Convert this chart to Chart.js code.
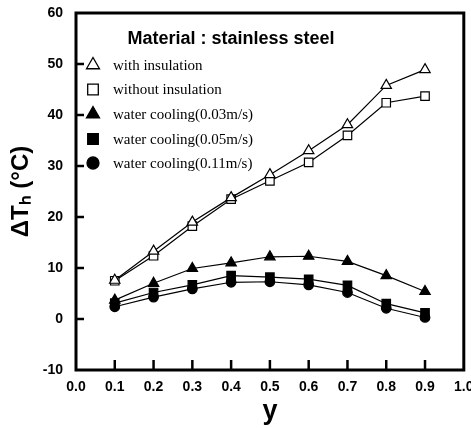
<!DOCTYPE html>
<html lang="en">
<head>
    <meta charset="UTF-8">
    <title>Delta T_h vs y - stainless steel</title>
    <script src="https://cdn.jsdelivr.net/npm/chart.js"></script>
    <style>
        html, body { margin: 0; padding: 0; background: #fff; }
    </style>
</head>
<body>
    <canvas id="chart" width="471" height="428"></canvas>
    <script>
        // positions along the plate
        const yPositions = [0.1, 0.2, 0.3, 0.4, 0.5, 0.6, 0.7, 0.8, 0.9];

        // delta T_h (°C)
        const withInsulation    = [7.6, 13.3, 19.0, 23.8, 28.3, 33.0, 38.1, 45.8, 48.9];
        const withoutInsulation = [7.5, 12.4, 18.2, 23.5, 27.1, 30.7, 36.0, 42.4, 43.7];
        const waterCooling003   = [3.7, 7.0, 9.9, 11.0, 12.2, 12.3, 11.3, 8.5, 5.4];
        const waterCooling005   = [3.1, 5.2, 6.7, 8.5, 8.2, 7.8, 6.6, 3.0, 1.2];
        const waterCooling011   = [2.4, 4.3, 5.9, 7.2, 7.3, 6.7, 5.2, 2.1, 0.3];

        const seriesNames = [
            "with insulation",
            "without insulation",
            "water cooling(0.03m/s)",
            "water cooling(0.05m/s)",
            "water cooling(0.11m/s)"
        ];
        const chartTitle = "Material : stainless steel";

        function toPoints(values) {
            return values.map((v, i) => ({ x: yPositions[i], y: v }));
        }

        function makeSet(label, values, style, filled, radius) {
            return {
                label: label,
                data: toPoints(values),
                borderColor: "#000",
                borderWidth: 1.2,
                pointStyle: style,
                pointRadius: radius,
                pointBorderWidth: 1.2,
                pointBorderColor: "#000",
                pointBackgroundColor: filled ? "#000" : "#fff",
                tension: 0
            };
        }

        const datasets = [
            makeSet(seriesNames[0], withInsulation, "triangle", false, 6),
            makeSet(seriesNames[1], withoutInsulation, "rect", false, 6),
            makeSet(seriesNames[2], waterCooling003, "triangle", true, 6),
            makeSet(seriesNames[3], waterCooling005, "rect", true, 6),
            makeSet(seriesNames[4], waterCooling011, "circle", true, 4.8)
        ];

        // box, inward ticks, title and legend are drawn by hand
        const framePlugin = {
            id: "frame",
            afterDatasetsDraw(chart) {
                const ctx = chart.ctx;
                const a = chart.chartArea;
                const xs = chart.scales.x;
                const ys = chart.scales.y;
                ctx.save();
                ctx.strokeStyle = "#000";
                ctx.lineWidth = 3;
                ctx.strokeRect(a.left, a.top, a.right - a.left, a.bottom - a.top);

                ctx.lineWidth = 2.5;
                ys.ticks.forEach(t => {
                    if (t.value <= ys.min || t.value >= ys.max) return;
                    const py = ys.getPixelForValue(t.value);
                    ctx.beginPath();
                    ctx.moveTo(a.left, py);
                    ctx.lineTo(a.left + 8, py);
                    ctx.stroke();
                });
                xs.ticks.forEach(t => {
                    if (t.value <= xs.min || t.value >= xs.max) return;
                    const px = xs.getPixelForValue(t.value);
                    ctx.beginPath();
                    ctx.moveTo(px, a.bottom);
                    ctx.lineTo(px, a.bottom - 10);
                    ctx.stroke();
                });

                // title
                ctx.fillStyle = "#000";
                ctx.font = "bold 18px 'Liberation Sans', Arial, sans-serif";
                ctx.textAlign = "center";
                ctx.textBaseline = "middle";
                ctx.fillText(chartTitle, 231, 39);

                // legend
                const rows = [65, 89.5, 114, 139, 163];
                ctx.font = "15px 'Liberation Serif', 'Times New Roman', serif";
                ctx.textAlign = "left";
                chart.data.datasets.forEach((ds, i) => {
                    ctx.fillStyle = ds.pointBackgroundColor;
                    ctx.strokeStyle = "#000";
                    ctx.lineWidth = 1.3;
                    Chart.helpers.drawPoint(ctx, {
                        pointStyle: ds.pointStyle,
                        radius: ds.pointStyle === "circle" ? 6 : 7.5,
                        borderWidth: 1.3,
                        rotation: 0
                    }, 93, rows[i]);
                    ctx.fillStyle = "#000";
                    ctx.fillText(ds.label, 113, rows[i] + 1);
                });
                ctx.restore();
            }
        };

        const tickFont = { family: "'Liberation Sans', Arial, sans-serif", size: 14, weight: "bold" };

        new Chart(document.getElementById("chart"), {
            type: "line",
            data: { datasets: datasets },
            plugins: [framePlugin],
            options: {
                responsive: false,
                animation: false,
                layout: { padding: { left: 0, right: 5, top: 13, bottom: 0 } },
                plugins: {
                    legend: { display: false },
                    tooltip: { enabled: false }
                },
                scales: {
                    x: {
                        type: "linear",
                        min: 0,
                        max: 1,
                        grid: { display: false, drawTicks: false },
                        border: { display: false },
                        ticks: {
                            stepSize: 0.1,
                            color: "#000",
                            font: tickFont,
                            padding: 9,
                            maxRotation: 0,
                            callback: v => Number(v).toFixed(1)
                        },
                        title: {
                            display: true,
                            text: "y",
                            color: "#000",
                            font: { family: "'Liberation Sans', Arial, sans-serif", size: 27, weight: "bold" },
                            padding: { top: 0, bottom: 0 }
                        },
                        afterFit: s => { s.height = 58; s.paddingLeft = 0; s.paddingRight = 0; }
                    },
                    y: {
                        min: -10,
                        max: 60,
                        grid: { display: false, drawTicks: false },
                        border: { display: false },
                        ticks: {
                            stepSize: 10,
                            color: "#000",
                            font: tickFont,
                            padding: 13
                        },
                        title: {
                            display: true,
                            text: "\u0394T\u2095 (\u00B0C)",
                            color: "#000",
                            font: { family: "'Liberation Sans', Arial, sans-serif", size: 24, weight: "bold" },
                            padding: { top: 7, bottom: 0 }
                        },
                        afterFit: s => { s.width = 76; s.paddingTop = 0; s.paddingBottom = 0; }
                    }
                }
            }
        });
    </script>
</body>
</html>
